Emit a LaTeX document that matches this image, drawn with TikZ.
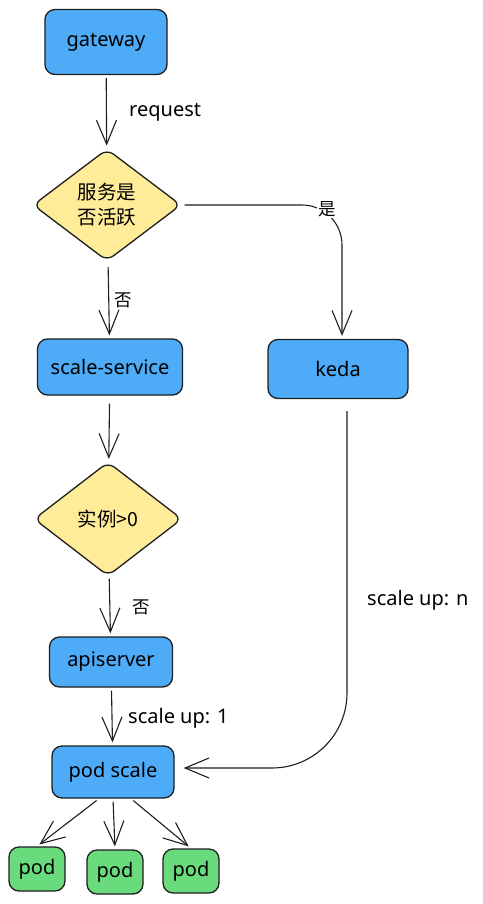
\documentclass[tikz,border=0pt]{standalone}
\usepackage{fontspec}
\setmainfont{Noto Sans}
\newfontfamily\cjk{Noto Sans CJK SC}
\usetikzlibrary{arrows.meta,shapes.geometric}
\definecolor{bluefill}{HTML}{4DABF7}
\definecolor{yellowfill}{HTML}{FFEC99}
\definecolor{greenfill}{HTML}{69DB7C}
\definecolor{ink}{HTML}{1E1E1E}
\begin{document}
\begin{tikzpicture}[x=1pt,y=-1pt,
 box/.style={draw=ink, line width=1.3pt, rounded corners=10pt, fill=bluefill, align=center, inner sep=0pt, font=\fontsize{20}{23}\selectfont},
 podbox/.style={box, fill=greenfill, minimum width=56pt, minimum height=44pt},
 decision/.style={diamond, draw=ink, line width=1.3pt, rounded corners=8pt, fill=yellowfill, align=center, inner sep=0pt, font=\cjk\fontsize{19.5}{25}\selectfont},
 flow/.style={draw=ink, line width=1.1pt, -{Straight Barb[length=24pt,width=20pt,line width=1.1pt]}, shorten >=3pt, shorten <=3pt},
 lbl/.style={font=\fontsize{20}{23}\selectfont, inner sep=1pt},
 cjklbl/.style={font=\cjk\fontsize{17.5}{20}\selectfont, inner sep=1pt},
]
\useasboundingbox (0,0) rectangle (482,904);
\node[box, minimum width=122pt, minimum height=65pt] (gw) at (106,42) {gateway};
\node[decision, minimum width=148pt, minimum height=112pt] (d1) at (107,205) {服务是\\否活跃};
\node[box, minimum width=145pt, minimum height=56pt] (ss) at (110,367) {scale-service};
\node[box, minimum width=140pt, minimum height=59pt] (keda) at (338,369) {keda};
\node[decision, minimum width=148pt, minimum height=114pt] (d2) at (108,519) {实例>0};
\node[box, minimum width=123pt, minimum height=50pt] (api) at (111,662) {apiserver};
\node[box, minimum width=122pt, minimum height=52pt] (ps) at (113,772) {pod scale};
\node[podbox] (pod1) at (37,869) {pod};
\node[podbox] (pod2) at (115,872) {pod};
\node[podbox] (pod3) at (191,871) {pod};

\draw[flow] (gw) -- (d1);
\node[lbl, anchor=west] (lreq) at (128,112) {request};
\draw[flow, rounded corners=40pt] (d1.east) -| ([xshift=4pt]keda.north);
\node[cjklbl, fill=white] (lyes) at (327,209) {是};
\draw[flow, shorten <=6pt] (d1) -- (ss);
\node[cjklbl, anchor=west] (lno1) at (113,300) {否};
\draw[flow, shorten <=8pt] (ss) -- (d2);
\draw[flow] (d2) -- (api);
\node[cjklbl, anchor=west] (lno2) at (131,607) {否};
\draw[flow] (api) -- (ps);
\node[lbl, anchor=west] (lup1) at (127,718) {scale up: 1};
\draw[flow, shorten <=12pt, shorten >=9pt, rounded corners=75pt] ([xshift=9pt]keda.south) |- ([yshift=4pt]ps.east);
\node[lbl, anchor=west] (lupn) at (366,600) {scale up: n};
\draw[flow] ([xshift=-14pt]ps.south) -- (pod1.north);
\draw[flow] (ps.south) -- (pod2.north);
\draw[flow] ([xshift=18pt]ps.south) -- (pod3.north);
\end{tikzpicture}
\end{document}
